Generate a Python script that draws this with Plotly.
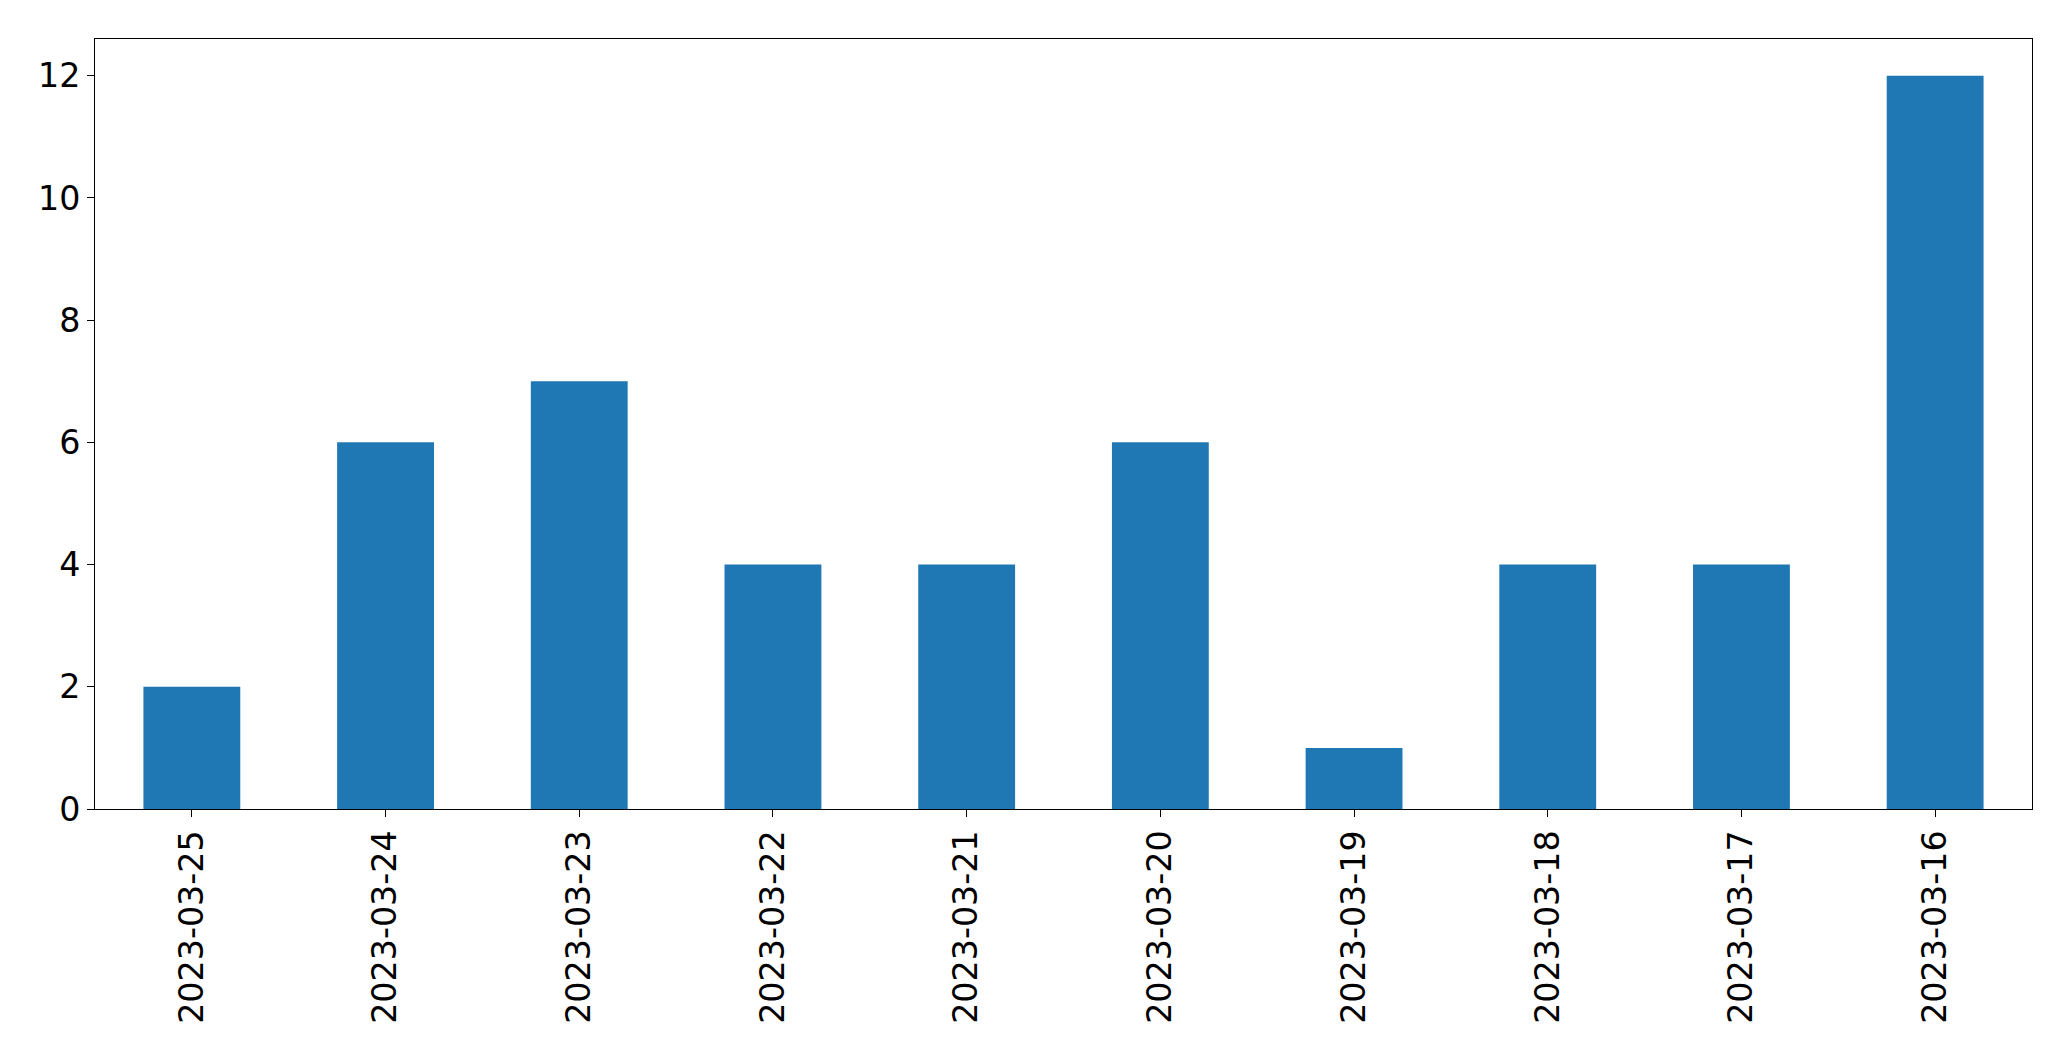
import plotly.graph_objects as go

dates = ["2023-03-25", "2023-03-24", "2023-03-23", "2023-03-22", "2023-03-21",
         "2023-03-20", "2023-03-19", "2023-03-18", "2023-03-17", "2023-03-16"]
counts = [2, 6, 7, 4, 4, 6, 1, 4, 4, 12]
y_ticks = [0, 2, 4, 6, 8, 10, 12]

fig = go.Figure(go.Bar(x=dates, y=counts, marker=dict(color="#1f77b4", line=dict(width=0))))

fig.update_layout(
    width=2071, height=1061,
    margin=dict(l=95, r=39, t=39, b=252, pad=0),
    paper_bgcolor="white", plot_bgcolor="white",
    bargap=0.5,
    showlegend=False,
    font=dict(family="DejaVu Sans", color="black", size=33.3),
)
fig.update_xaxes(
    type="category", range=[-0.5, 9.5], tickangle=-90,
    showline=True, linecolor="black", linewidth=1, mirror=True,
    ticks="outside", ticklen=7, tickwidth=1, tickcolor="black",
    showgrid=False, zeroline=False,
    tickfont=dict(family="DejaVu Sans", size=33.3, color="black"),
)
fig.update_yaxes(
    range=[0, 12.6], tickvals=y_ticks,
    showline=True, linecolor="black", linewidth=1, mirror=True,
    ticks="outside", ticklen=7, tickwidth=1, tickcolor="black",
    showgrid=False, zeroline=False,
    tickfont=dict(family="DejaVu Sans", size=33.3, color="black"),
)

fig.write_html("out.html")
